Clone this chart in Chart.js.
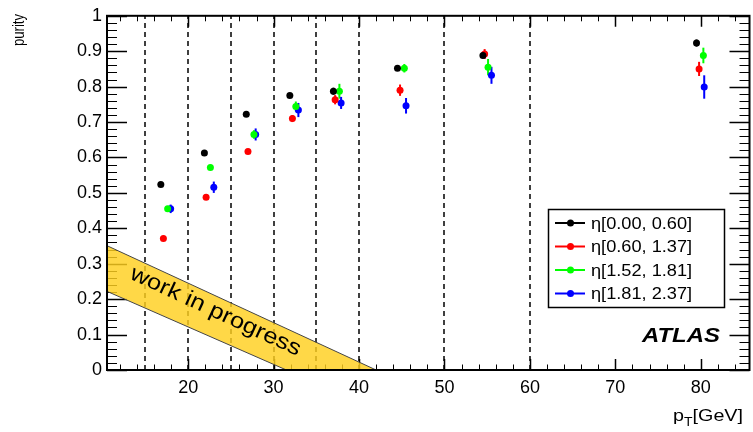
<!DOCTYPE html>
<html>
<head>
<meta charset="utf-8">
<script src="https://cdn.jsdelivr.net/npm/chart.js@4.4.1/dist/chart.umd.min.js"></script>
<style>
  html, body { margin: 0; padding: 0; background: #fff; }
  #wrap { width: 753px; height: 432px; }
</style>
</head>
<body>
<div id="wrap"><canvas id="purityChart" width="753" height="432"></canvas></div>
<script>
// values
const seriesLabels = ['η[0.00, 0.60]', 'η[0.60, 1.37]', 'η[1.52, 1.81]', 'η[1.81, 2.37]'];
const seriesColors = ['#000000', '#ff0000', '#00ff00', '#0000ff'];

const ptBlack = [16.8, 21.9, 26.8, 31.9, 37.0, 44.5, 54.5, 79.5];
const purBlack = [0.524, 0.613, 0.722, 0.775, 0.787, 0.852, 0.888, 0.923];
const errBlack = [0.004, 0.004, 0.005, 0.006, 0.010, 0.006, 0.008, 0.010];

const ptRed = [17.1, 22.1, 27.0, 32.2, 37.2, 44.8, 54.7, 79.8];
const purRed = [0.371, 0.488, 0.617, 0.710, 0.763, 0.790, 0.892, 0.850];
const errRed = [0.004, 0.005, 0.007, 0.010, 0.013, 0.016, 0.014, 0.020];

const ptGreen = [17.6, 22.6, 27.7, 32.6, 37.7, 45.3, 55.1, 80.3];
const purGreen = [0.455, 0.572, 0.665, 0.744, 0.787, 0.852, 0.855, 0.888];
const errGreen = [0.005, 0.007, 0.012, 0.014, 0.021, 0.012, 0.023, 0.022];

const ptBlue = [17.95, 23.0, 27.9, 32.9, 37.9, 45.5, 55.5, 80.4];
const purBlue = [0.455, 0.516, 0.665, 0.734, 0.754, 0.746, 0.832, 0.799];
const errBlue = [0.012, 0.016, 0.017, 0.020, 0.017, 0.022, 0.024, 0.033];

const xTicks = [20, 30, 40, 50, 60, 70, 80];
const yTickLabels = ['0', '0.1', '0.2', '0.3', '0.4', '0.5', '0.6', '0.7', '0.8', '0.9', '1'];
const binEdges = [15, 20, 25, 30, 35, 40, 50, 60];

// "work in progress" band corners (pT, purity)
const bandCorners = [[10.5, 0.351], [42.0, 0.0], [31.5, 0.0], [10.5, 0.222]];

const FONT = '"Liberation Sans", Arial, Helvetica, sans-serif';

const allPt = [ptBlack, ptRed, ptGreen, ptBlue];
const allPur = [purBlack, purRed, purGreen, purBlue];
const allErr = [errBlack, errRed, errGreen, errBlue];

const datasets = seriesLabels.map((name, i) => ({
    label: name,
    data: allPt[i].map((x, j) => ({ x: x, y: allPur[i][j] })),
    errors: allErr[i],
    backgroundColor: seriesColors[i],
    borderColor: seriesColors[i],
    borderWidth: 0,
    pointRadius: 3.5,
    pointHoverRadius: 3.5,
    showLine: false
}));

// text with a horizontal stretch, the original picture is a bit wider than tall
function stretchedText(ctx, text, x, y, font, sx, align) {
    ctx.save();
    ctx.font = font;
    ctx.translate(x, y);
    ctx.scale(sx, 1);
    ctx.textAlign = align || 'left';
    ctx.fillText(text, 0, 0);
    ctx.restore();
}

const underlay = {
    id: 'underlay',
    beforeDatasetsDraw(chart) {
        const ctx = chart.ctx;
        const a = chart.chartArea;
        const xs = chart.scales.x, ys = chart.scales.y;
        ctx.save();

        // dashed bin boundaries
        ctx.strokeStyle = '#000';
        ctx.lineWidth = 1.5;
        ctx.setLineDash([5, 4]);
        binEdges.forEach(v => {
            const px = Math.round(xs.getPixelForValue(v));
            ctx.beginPath();
            ctx.moveTo(px, a.bottom);
            ctx.lineTo(px, a.top);
            ctx.stroke();
        });
        ctx.setLineDash([]);

        // inward ticks on all four sides
        ctx.lineWidth = 1;
        ctx.strokeStyle = '#000';
        for (let v = 12; v <= 86; v += 2) {
            const px = Math.round(xs.getPixelForValue(v)) + 0.5;
            if (px < a.left || px > a.right) continue;
            const len = v % 10 === 0 ? 11 : 5.5;
            ctx.lineWidth = v % 10 === 0 ? 1.5 : 1;
            ctx.beginPath();
            ctx.moveTo(px, a.bottom); ctx.lineTo(px, a.bottom - len);
            ctx.moveTo(px, a.top); ctx.lineTo(px, a.top + len);
            ctx.stroke();
        }
        for (let k = 0; k <= 50; k++) {
            const py = Math.round(ys.getPixelForValue(k * 0.02)) + 0.5;
            const len = k % 5 === 0 ? 20 : 10;
            ctx.lineWidth = k % 5 === 0 ? 1.5 : 1;
            ctx.beginPath();
            ctx.moveTo(a.left, py); ctx.lineTo(a.left + len, py);
            ctx.moveTo(a.right, py); ctx.lineTo(a.right - len, py);
            ctx.stroke();
        }

        // work in progress band
        ctx.beginPath();
        bandCorners.forEach((c, i) => {
            const px = xs.getPixelForValue(c[0]), py = ys.getPixelForValue(c[1]);
            if (i === 0) ctx.moveTo(px, py); else ctx.lineTo(px, py);
        });
        ctx.closePath();
        ctx.fillStyle = 'rgba(255, 208, 30, 0.82)';
        ctx.fill();
        ctx.strokeStyle = '#444';
        ctx.lineWidth = 1;
        ctx.beginPath();
        ctx.moveTo(xs.getPixelForValue(bandCorners[0][0]), ys.getPixelForValue(bandCorners[0][1]));
        ctx.lineTo(xs.getPixelForValue(bandCorners[1][0]), ys.getPixelForValue(bandCorners[1][1]));
        ctx.moveTo(xs.getPixelForValue(bandCorners[2][0]), ys.getPixelForValue(bandCorners[2][1]));
        ctx.lineTo(xs.getPixelForValue(bandCorners[3][0]), ys.getPixelForValue(bandCorners[3][1]));
        ctx.stroke();

        const p0x = xs.getPixelForValue(bandCorners[0][0]), p0y = ys.getPixelForValue(bandCorners[0][1]);
        const p1x = xs.getPixelForValue(bandCorners[1][0]), p1y = ys.getPixelForValue(bandCorners[1][1]);
        const ang = Math.atan2(p1y - p0y, p1x - p0x);
        ctx.translate(xs.getPixelForValue(23.2), ys.getPixelForValue(0.165));
        ctx.rotate(ang);
        ctx.scale(1.15, 1);
        ctx.fillStyle = '#000';
        ctx.font = '22px ' + FONT;
        ctx.textAlign = 'center';
        ctx.textBaseline = 'middle';
        ctx.fillText('work in progress', 0, 0);
        ctx.restore();

        // error bars
        ctx.save();
        ctx.lineWidth = 2;
        chart.data.datasets.forEach(ds => {
            ctx.strokeStyle = ds.borderColor;
            ds.data.forEach((p, j) => {
                const px = xs.getPixelForValue(p.x);
                ctx.beginPath();
                ctx.moveTo(px, ys.getPixelForValue(p.y - ds.errors[j]));
                ctx.lineTo(px, ys.getPixelForValue(p.y + ds.errors[j]));
                ctx.stroke();
            });
        });
        ctx.restore();
    }
};

const overlay = {
    id: 'overlay',
    afterDatasetsDraw(chart) {
        const ctx = chart.ctx;
        const a = chart.chartArea;
        ctx.save();

        // frame
        ctx.strokeStyle = '#000';
        ctx.lineWidth = 2;
        ctx.strokeRect(a.left, a.top, a.right - a.left, a.bottom - a.top);

        // legend box
        const lx = 548, ly = 209, lw = 176, lh = 98;
        ctx.fillStyle = '#fff';
        ctx.fillRect(lx, ly, lw, lh);
        ctx.lineWidth = 1.5;
        ctx.strokeRect(lx + 0.5, ly + 0.5, lw, lh);
        chart.data.datasets.forEach((ds, i) => {
            const y = ly + 14 + i * 23.5;
            ctx.strokeStyle = ds.borderColor;
            ctx.lineWidth = 2;
            ctx.beginPath();
            ctx.moveTo(555, y); ctx.lineTo(585, y);
            ctx.stroke();
            ctx.fillStyle = ds.borderColor;
            ctx.beginPath();
            ctx.arc(570.5, y, 3.5, 0, Math.PI * 2);
            ctx.fill();
            ctx.fillStyle = '#000';
            ctx.textBaseline = 'middle';
            stretchedText(ctx, ds.label, 591, y + 1, '17px ' + FONT, 1.07, 'left');
        });

        // ATLAS label
        ctx.fillStyle = '#000';
        ctx.textBaseline = 'alphabetic';
        stretchedText(ctx, 'ATLAS', 720, 342, 'italic bold 21px ' + FONT, 1.14, 'right');

        // x axis title p_T[GeV], right aligned
        const sx = 1.16;
        ctx.font = '17px ' + FONT;
        const gevW = ctx.measureText('[GeV]').width * sx;
        ctx.font = '12px ' + FONT;
        const tW = ctx.measureText('T').width * sx;
        stretchedText(ctx, '[GeV]', 743, 421, '17px ' + FONT, sx, 'right');
        stretchedText(ctx, 'T', 743 - gevW, 426, '12px ' + FONT, sx, 'right');
        stretchedText(ctx, 'p', 743 - gevW - tW, 421, '17px ' + FONT, sx, 'right');

        // y axis title, rotated
        ctx.translate(24, 14);
        ctx.rotate(-Math.PI / 2);
        ctx.scale(0.82, 1);
        ctx.font = '16px ' + FONT;
        ctx.textAlign = 'right';
        ctx.fillText('purity', 0, 0);
        ctx.restore();
    }
};

new Chart(document.getElementById('purityChart').getContext('2d'), {
    type: 'scatter',
    data: { datasets: datasets },
    options: {
        responsive: false,
        animation: false,
        events: [],
        layout: { padding: { top: 13, right: 1, left: 0, bottom: 0 } },
        plugins: {
            legend: { display: false },
            tooltip: { enabled: false },
            title: { display: false }
        },
        scales: {
            x: {
                type: 'linear',
                min: 10.5,
                max: 85.7,
                grid: { display: false, drawTicks: false },
                border: { display: false },
                afterBuildTicks: s => { s.ticks = xTicks.map(v => ({ value: v })); },
                afterFit: s => { s.height = 62; },
                ticks: {
                    color: '#000',
                    font: { family: FONT, size: 18 },
                    padding: 7,
                    maxRotation: 0,
                    autoSkip: false
                }
            },
            y: {
                type: 'linear',
                min: 0,
                max: 1,
                grid: { display: false, drawTicks: false },
                border: { display: false },
                afterBuildTicks: s => { s.ticks = yTickLabels.map((t, i) => ({ value: i / 10 })); },
                afterFit: s => { s.width = 107; },
                ticks: {
                    color: '#000',
                    font: { family: FONT, size: 18 },
                    padding: 5,
                    autoSkip: false,
                    callback: (v, i) => yTickLabels[i]
                }
            }
        }
    },
    plugins: [underlay, overlay]
});
</script>
</body>
</html>
